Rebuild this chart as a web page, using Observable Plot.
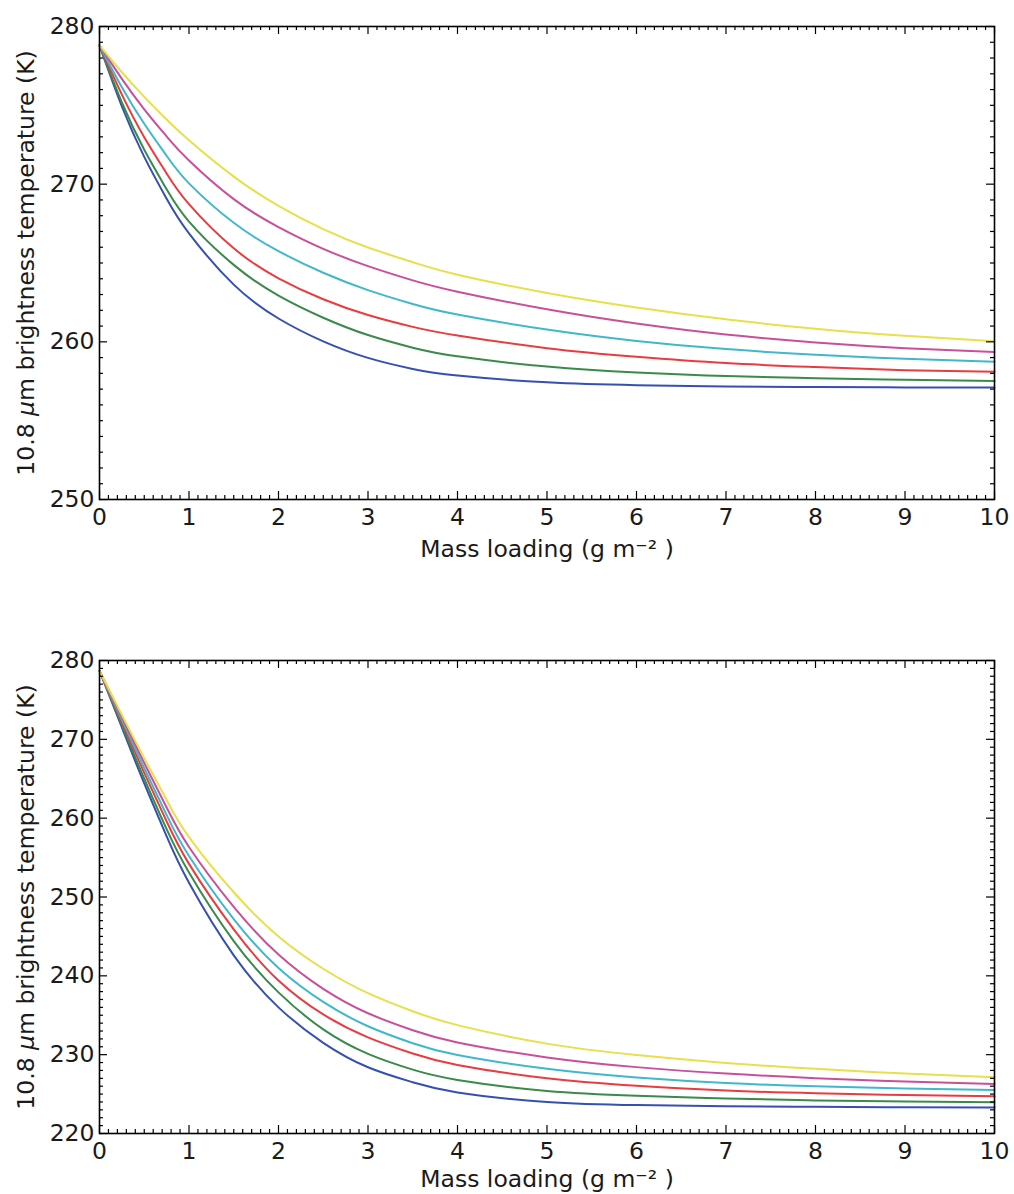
<!DOCTYPE html>
<html><head><meta charset="utf-8">
<script src="https://cdn.jsdelivr.net/npm/d3@7"></script>
<script src="https://cdn.jsdelivr.net/npm/@observablehq/plot@0.6"></script>
<style>
body{margin:0;background:#fff;}
#chart svg{display:block;}
</style>
</head><body><div id="chart"></div>
<script>
// ---- data ----
const massLoading = [0, 0.25, 0.5, 0.75, 1, 1.5, 2, 2.5, 3, 3.5, 4, 5, 6, 7, 8, 9, 10];
const seriesNames = ["b", "g", "r", "c", "m", "y"];
const seriesColors = ["#3550b0", "#3a8a4a", "#e83c40", "#3fb8cc", "#c8509a", "#e6e04a"];

// top panel (K)
const topB = [278.8, 274.93, 271.73, 269.08, 266.88, 263.63, 261.48, 260.03, 258.98, 258.28, 257.86, 257.43, 257.25, 257.17, 257.13, 257.11, 257.10];
const topG = [278.8, 275.18, 272.18, 269.68, 267.63, 264.88, 262.93, 261.53, 260.43, 259.63, 259.08, 258.43, 258.05, 257.83, 257.69, 257.59, 257.52];
const topR = [278.8, 275.68, 272.98, 270.68, 268.73, 265.93, 264.03, 262.7, 261.7, 260.95, 260.4, 259.6, 259.05, 258.65, 258.4, 258.2, 258.1];
const topC = [278.8, 276.15, 273.83, 271.8, 270.05, 267.55, 265.75, 264.38, 263.28, 262.4, 261.73, 260.78, 260.06, 259.54, 259.18, 258.93, 258.74];
const topM = [278.8, 276.68, 274.75, 273.03, 271.5, 269.05, 267.28, 265.9, 264.8, 263.9, 263.18, 262.06, 261.16, 260.46, 259.96, 259.6, 259.35];
const topY = [278.8, 277.1, 275.54, 274.1, 272.78, 270.48, 268.63, 267.15, 265.98, 265.05, 264.25, 263.1, 262.18, 261.43, 260.83, 260.38, 260.03];

// bottom panel (K)
const botB = [278.7, 271.5, 264.4, 257.7, 251.8, 242.6, 236.0, 231.5, 228.4, 226.5, 225.2, 224.0, 223.6, 223.45, 223.38, 223.33, 223.31];
const botG = [278.7, 271.8, 265.0, 258.6, 253.1, 244.4, 237.9, 233.2, 230.1, 228.1, 226.8, 225.4, 224.8, 224.45, 224.2, 224.05, 223.95];
const botR = [278.7, 272.2, 265.75, 259.6, 254.2, 245.9, 239.4, 235.1, 232.2, 230.15, 228.7, 227.0, 226.05, 225.45, 225.1, 224.88, 224.71];
const botC = [278.7, 272.5, 266.35, 260.4, 255.2, 247.2, 241.0, 236.7, 233.6, 231.45, 229.95, 228.2, 227.1, 226.4, 225.98, 225.72, 225.52];
const botM = [278.7, 272.85, 267.0, 261.35, 256.35, 248.75, 242.7, 238.35, 235.25, 233.1, 231.55, 229.65, 228.42, 227.6, 227.02, 226.6, 226.28];
const botY = [278.7, 273.1, 267.6, 262.3, 257.6, 250.6, 245.0, 240.9, 237.8, 235.5, 233.75, 231.4, 229.95, 228.95, 228.2, 227.6, 227.12];

const xTicks = [0, 1, 2, 3, 4, 5, 6, 7, 8, 9, 10];
const yTicksTop = [250, 260, 270, 280];
const yTicksBottom = [220, 230, 240, 250, 260, 270, 280];
const xLabel = "Mass loading (g m\u207B\u00B2 )";
const yLabel = "10.8 \u03BCm brightness temperature (K)";

// ---- build ----
function longTable(arrs) {
  const rows = [];
  arrs.forEach((arr, i) => arr.forEach((v, j) => rows.push({series: seriesNames[i], x: massLoading[j], y: v})));
  return rows;
}

const W = 1014, FW = 895, FH = 473, ML = 99, MR = 20;
const FONT = "DejaVu Sans";
const FS = 23.5;

function panel(rows, yDomain, yTicks, marginTop, marginBottom, xLabelDy) {
  const xMinor = d3.range(0, 10.0001, 0.1).map(v => Math.round(v * 10) / 10).filter(v => !Number.isInteger(v));
  const yMinor = d3.range(yDomain[0], yDomain[1] + 0.0001, 1).filter(v => v % 10 !== 0);
  const tickStyle = {stroke: "black", strokeWidth: 1.2};
  return Plot.plot({
    width: W,
    height: marginTop + FH + marginBottom,
    marginLeft: ML, marginRight: MR, marginTop, marginBottom,
    style: {fontFamily: FONT, fontSize: FS + "px", background: "white", color: "#1a1a1a", overflow: "visible"},
    x: {domain: [0, 10]},
    y: {domain: yDomain},
    color: {domain: seriesNames, range: seriesColors},
    marks: [
      Plot.line(rows, {x: "x", y: "y", z: "series", stroke: "series", strokeWidth: 2, curve: "natural"}),
      // major ticks, inward on all sides
      Plot.tickX(xTicks, {x: d => d, insetTop: FH - 8, ...tickStyle}),
      Plot.tickX(xTicks, {x: d => d, insetBottom: FH - 8, ...tickStyle}),
      Plot.tickY(yTicks, {y: d => d, insetRight: FW - 8, ...tickStyle}),
      Plot.tickY(yTicks, {y: d => d, insetLeft: FW - 8, ...tickStyle}),
      // minor ticks
      Plot.tickX(xMinor, {x: d => d, insetTop: FH - 4, ...tickStyle}),
      Plot.tickX(xMinor, {x: d => d, insetBottom: FH - 4, ...tickStyle}),
      Plot.tickY(yMinor, {y: d => d, insetRight: FW - 4, ...tickStyle}),
      Plot.tickY(yMinor, {y: d => d, insetLeft: FW - 4, ...tickStyle}),
      Plot.frame({stroke: "black", strokeWidth: 1.6}),
      Plot.axisX(xTicks, {tickSize: 0, tickPadding: 9, fontSize: FS, label: null, tickFormat: d => String(d)}),
      Plot.axisY(yTicks, {tickSize: 0, tickPadding: 5, fontSize: FS, label: null, tickFormat: d => String(d)}),
      Plot.text([xLabel], {frameAnchor: "bottom", dy: xLabelDy, textAnchor: "middle", lineAnchor: "middle", fontSize: FS, text: d => d}),
      Plot.text([yLabel], {frameAnchor: "left", dx: -73, rotate: -90, textAnchor: "middle", lineAnchor: "middle", fontSize: FS, text: d => d})
    ]
  });
}

const chart = document.getElementById("chart");
chart.appendChild(panel(longTable([topB, topG, topR, topC, topM, topY]), [250, 280], yTicksTop, 26, 81, 50));
chart.appendChild(panel(longTable([botB, botG, botR, botC, botM, botY]), [220, 280], yTicksBottom, 80, 61, 46));

// italic mu like the mathtext label
chart.querySelectorAll("text").forEach(t => {
  if (t.textContent.includes("\u03BC")) {
    const parts = t.textContent.split("\u03BC");
    t.textContent = "";
    const ns = "http://www.w3.org/2000/svg";
    const a = document.createElementNS(ns, "tspan"); a.textContent = parts[0];
    const b = document.createElementNS(ns, "tspan"); b.textContent = "\u03BC"; b.setAttribute("font-style", "italic");
    const c = document.createElementNS(ns, "tspan"); c.textContent = parts[1];
    t.append(a, b, c);
  }
});
</script>
</body></html>
